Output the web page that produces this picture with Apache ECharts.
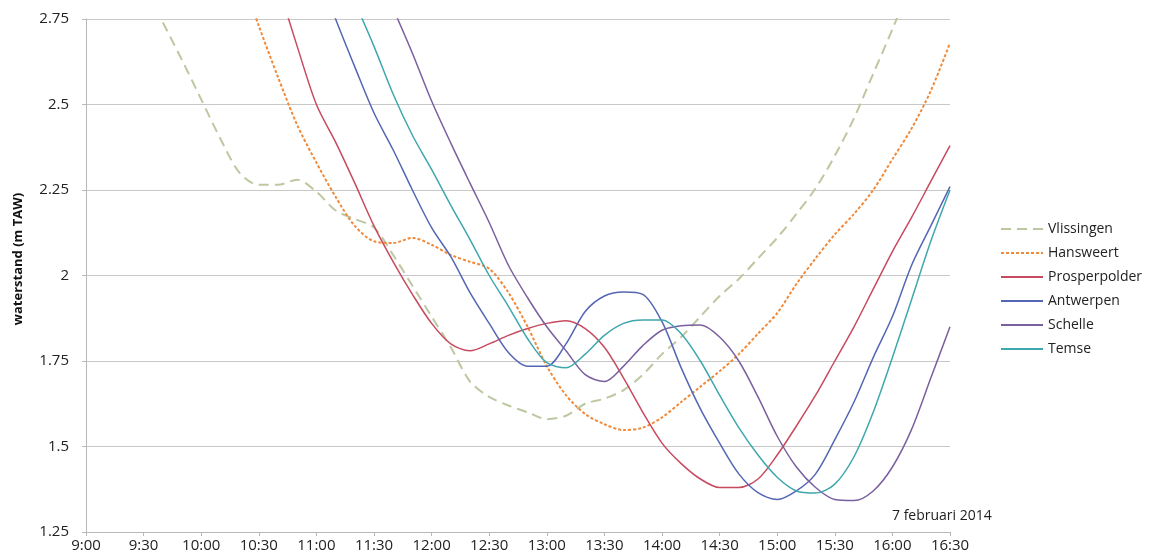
<!DOCTYPE html>
<html>
<head>
<meta charset="utf-8">
<script src="https://cdn.jsdelivr.net/npm/echarts@6/dist/echarts.min.js"></script>
<style>
html,body{margin:0;padding:0;background:#fff;}
#chart{width:1157px;height:557px;}
</style>
</head>
<body>
<div id="chart"></div>
<script>
// Time stamps (7 februari 2014), every 10 minutes
const times = ['9:40','9:50','10:00','10:10','10:20','10:30','10:40','10:50','11:00','11:10',
  '11:20','11:30','11:40','11:50','12:00','12:10','12:20','12:30','12:40','12:50',
  '13:00','13:10','13:20','13:30','13:40','13:50','14:00','14:10','14:20','14:30',
  '14:40','14:50','15:00','15:10','15:20','15:30','15:40','15:50','16:00','16:10',
  '16:20','16:30'];

// x-axis tick labels
const xTickLabels = ['9:00','9:30','10:00','10:30','11:00','11:30','12:00','12:30',
  '13:00','13:30','14:00','14:30','15:00','15:30','16:00','16:30'];

// waterstand (m TAW)
const vlissingen = [2.74,2.63,2.515,2.40,2.30,2.265,2.265,2.28,2.245,2.19,
  2.165,2.14,2.06,1.97,1.88,1.79,1.69,1.645,1.62,1.60,
  1.58,1.59,1.625,1.64,1.665,1.71,1.77,1.82,1.88,1.94,
  1.99,2.05,2.11,2.18,2.255,2.35,2.46,2.59,2.72,2.86,
  null,null];
const hansweert = [null,null,null,null,2.89,2.73,2.58,2.44,2.33,2.23,
  2.145,2.10,2.095,2.11,2.09,2.06,2.04,2.02,1.95,1.85,
  1.735,1.65,1.595,1.565,1.548,1.555,1.585,1.63,1.675,1.72,
  1.77,1.83,1.89,1.975,2.05,2.12,2.18,2.25,2.34,2.43,
  2.54,2.68];
const prosperpolder = [null,null,null,null,null,null,2.85,2.67,2.50,2.39,
  2.27,2.145,2.04,1.945,1.86,1.80,1.78,1.80,1.825,1.845,
  1.86,1.868,1.845,1.79,1.70,1.60,1.51,1.45,1.405,1.38,
  1.38,1.405,1.475,1.56,1.65,1.75,1.85,1.96,2.07,2.17,
  2.275,2.38];
const antwerpen = [null,null,null,null,null,null,null,null,2.90,2.75,
  2.61,2.475,2.367,2.25,2.14,2.055,1.95,1.86,1.775,1.735,
  1.735,1.80,1.895,1.94,1.952,1.945,1.865,1.73,1.61,1.51,
  1.42,1.365,1.345,1.37,1.42,1.52,1.63,1.76,1.88,2.03,
  2.145,2.26];
const schelle = [null,null,null,null,null,null,null,null,null,null,
  null,null,2.78,2.65,2.51,2.387,2.27,2.155,2.03,1.935,
  1.85,1.78,1.71,1.69,1.735,1.795,1.84,1.853,1.855,1.82,
  1.75,1.645,1.53,1.44,1.38,1.345,1.342,1.37,1.44,1.55,
  1.70,1.85];
const temse = [null,null,null,null,null,null,null,null,null,null,
  2.80,2.67,2.53,2.41,2.31,2.205,2.105,2.00,1.91,1.815,
  1.745,1.73,1.77,1.825,1.86,1.87,1.87,1.83,1.75,1.65,
  1.555,1.475,1.41,1.37,1.364,1.39,1.47,1.60,1.76,1.93,
  2.10,2.25];

const FONT = "'Open Sans', 'Liberation Sans', sans-serif";

function toMin(s){ const p = s.split(':'); return (+p[0]-9)*60 + (+p[1]); }
function pairs(vals){ return times.map((t,i)=>[toMin(t), vals[i]]); }

const chart = echarts.init(document.getElementById('chart'));

function lineSeries(name, vals, color, type, width){
  return {
    name: name,
    type: 'line',
    data: pairs(vals),
    symbol: 'none',
    smooth: 0.3,
    connectNulls: false,
    clip: true,
    lineStyle: {color: color, width: width, type: type},
    itemStyle: {color: color},
    emphasis: {disabled: true}
  };
}

chart.setOption({
  animation: false,
  backgroundColor: '#ffffff',
  grid: {left: 86, right: 207, top: 19, bottom: 25, containLabel: false},
  xAxis: {
    type: 'value',
    min: 0, max: 450, interval: 30,
    axisLine: {show: true, lineStyle: {color: '#b8b8b8', width: 1}},
    axisTick: {show: true, length: 4, lineStyle: {color: '#b8b8b8'}},
    splitLine: {show: false},
    axisLabel: {
      color: '#222', fontFamily: FONT, fontSize: 15, margin: 6,
      formatter: function(v){ return xTickLabels[Math.round(v/30)] || ''; }
    }
  },
  yAxis: {
    type: 'value',
    min: 1.25, max: 2.75, interval: 0.25,
    axisLine: {show: true, lineStyle: {color: '#b8b8b8', width: 1}},
    axisTick: {show: true, length: 4, lineStyle: {color: '#b8b8b8'}},
    splitLine: {show: true, lineStyle: {color: '#c8c8c8', width: 1}},
    axisLabel: {color: '#222', fontFamily: FONT, fontSize: 15, margin: 17}
  },
  legend: {
    orient: 'vertical',
    left: 995, top: 217,
    itemWidth: 42, itemHeight: 14, itemGap: 10,
    itemStyle: {opacity: 0},
    textStyle: {color: '#222', fontFamily: FONT, fontSize: 14},
    data: ['Vlissingen','Hansweert','Prosperpolder','Antwerpen','Schelle','Temse']
  },
  graphic: [
    {
      type: 'text',
      x: 18, y: 259,
      rotation: Math.PI/2,
      style: {
        text: 'waterstand (m TAW)',
        fill: '#111',
        font: "bold 13px 'Open Sans', sans-serif",
        textAlign: 'center',
        textVerticalAlign: 'middle'
      }
    },
    {
      type: 'text',
      left: 892, top: 509,
      style: {
        text: '7 februari 2014',
        fill: '#222',
        font: "14px 'Open Sans', sans-serif"
      }
    }
  ],
  series: [
    lineSeries('Vlissingen', vlissingen, '#bcc8a0', [10,6], 2),
    lineSeries('Hansweert', hansweert, '#f08a3a', [3,2], 2),
    lineSeries('Prosperpolder', prosperpolder, '#c84a5e', 'solid', 1.5),
    lineSeries('Antwerpen', antwerpen, '#5466b4', 'solid', 1.5),
    lineSeries('Schelle', schelle, '#7a609e', 'solid', 1.5),
    lineSeries('Temse', temse, '#3fa7ae', 'solid', 1.5)
  ]
});
</script>
</body>
</html>
